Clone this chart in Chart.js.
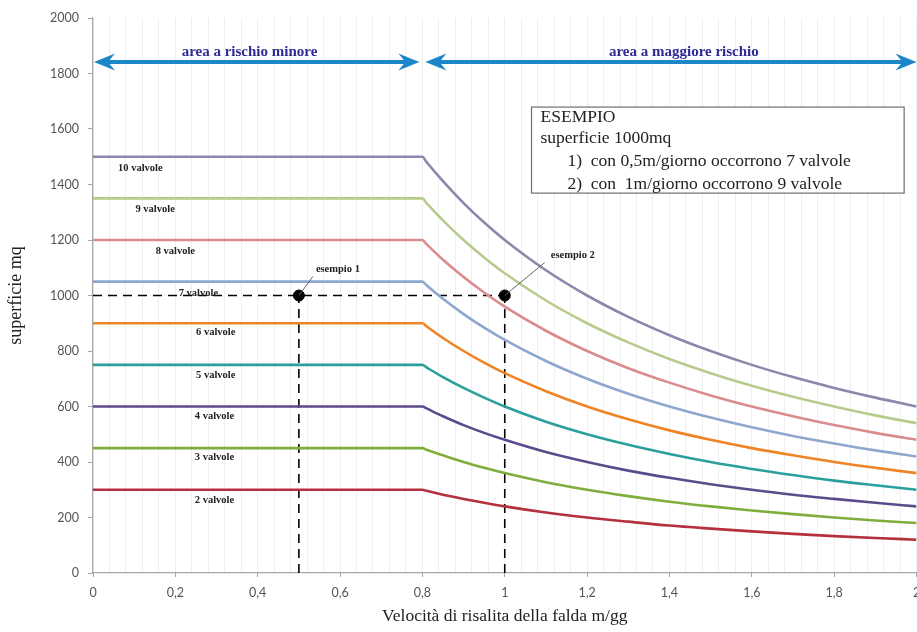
<!DOCTYPE html>
<html>
<head>
<meta charset="utf-8">
<script src="https://cdn.jsdelivr.net/npm/chart.js@4.4.1/dist/chart.umd.min.js"></script>
<style>
html,body{margin:0;padding:0;background:#fff;overflow:hidden;width:917px;height:632px;}
#wrap{position:relative;width:923px;height:632px;}
</style>
</head>
<body>
<div id="wrap"><canvas id="c"></canvas></div>
<script>
// ---- data ----
const xValues = [0, 0.8, 0.81, 0.85, 0.9, 0.95, 1.0, 1.1, 1.2, 1.3, 1.4, 1.5, 1.6, 1.7, 1.8, 1.9, 2.0];
const v10 = [1500,1500,1481,1412,1333,1263,1200,1091,1000,923,857,800,750,706,667,632,600];
const v9  = [1350,1350,1333,1271,1200,1137,1080,982,900,831,771,720,675,635,600,568,540];
const v8  = [1200,1200,1185,1129,1067,1011,960,873,800,738,686,640,600,565,533,505,480];
const v7  = [1050,1050,1037,988,933,884,840,764,700,646,600,560,525,494,467,442,420];
const v6  = [900,900,889,847,800,758,720,655,600,554,514,480,450,424,400,379,360];
const v5  = [750,750,741,706,667,632,600,545,500,462,429,400,375,353,333,316,300];
const v4  = [600,600,593,565,533,505,480,436,400,369,343,320,300,282,267,253,240];
const v3  = [450,450,444,424,400,379,360,327,300,277,257,240,225,212,200,189,180];
const v2  = [300,300,296,282,267,253,240,218,200,185,171,160,150,141,133,126,120];
const seriesNames = ['10 valvole','9 valvole','8 valvole','7 valvole','6 valvole','5 valvole','4 valvole','3 valvole','2 valvole'];
const seriesValues = [v10, v9, v8, v7, v6, v5, v4, v3, v2];
const seriesColors = ['#8b88ac','#b7cc8c','#d98b8e','#8ea7cf','#f08324','#2a9f9c','#5c4b8b','#7fae3d','#b4303c'];
// label anchor positions (x, y) for curve names
const labelX = [0.115, 0.151, 0.2, 0.256, 0.298, 0.298, 0.295, 0.295, 0.295];
const labelY = [1459, 1312, 1160, 1009, 868, 714, 566, 418, 263];
// examples
const exampleX = [0.5, 1.0];
const exampleY = [1000, 1000];
const exampleNames = ['esempio 1', 'esempio 2'];
const xTicks = [0, 0.2, 0.4, 0.6, 0.8, 1, 1.2, 1.4, 1.6, 1.8, 2];
const yTicks = [0, 200, 400, 600, 800, 1000, 1200, 1400, 1600, 1800, 2000];
const arrowY = 1841;
const zoneSplit = 0.8;
const zoneLabels = ['area a rischio minore', 'area a maggiore rischio'];
const zoneLabelX = [0.38, 1.435];
const boxLines = ['ESEMPIO', 'superficie 1000mq', '1)  con 0,5m/giorno occorrono 7 valvole', '2)  con  1m/giorno occorrono 9 valvole'];

const datasets = seriesValues.map((vals, i) => ({
  label: seriesNames[i],
  data: xValues.map((x, j) => ({x: x, y: vals[j]})),
  borderColor: seriesColors[i],
  borderWidth: 2.6,
  pointRadius: 0,
  fill: false,
  cubicInterpolationMode: 'monotone'
}));
// dashed reference lines
const dashStyle = {borderColor:'#000', borderWidth:1.6, borderDash:[9,6], pointRadius:0, fill:false};
datasets.push(Object.assign({label:'h', data:[{x:0,y:exampleY[0]},{x:exampleX[1],y:exampleY[1]}]}, dashStyle));
exampleX.forEach((ex, i) => {
  datasets.push(Object.assign({label:'v'+i, data:[{x:ex,y:0},{x:ex,y:exampleY[i]}]}, dashStyle));
});
datasets.push({label:'pts', data: exampleX.map((ex,i)=>({x:ex,y:exampleY[i]})), showLine:false,
  pointRadius:5.5, pointBackgroundColor:'#000', pointBorderColor:'#000'});

function arrowHead(ctx, tipX, y, dir) {
  // swept-back head; dir = -1 pointing left, +1 pointing right
  const L = 21, H = 8.5, back = 14;
  ctx.beginPath();
  ctx.moveTo(tipX, y);
  ctx.lineTo(tipX - dir*L, y - H);
  ctx.lineTo(tipX - dir*back, y);
  ctx.lineTo(tipX - dir*L, y + H);
  ctx.closePath();
  ctx.fill();
}

const overlay = {
  id: 'overlay',
  afterDatasetsDraw(chart) {
    const ctx = chart.ctx, xs = chart.scales.x, ys = chart.scales.y;
    ctx.save();
    // curve labels
    ctx.font = 'bold 10.5px "Liberation Serif"';
    ctx.fillStyle = '#222';
    ctx.textAlign = 'center';
    ctx.textBaseline = 'middle';
    seriesNames.forEach((n, i) => {
      ctx.fillText(n, xs.getPixelForValue(labelX[i]), ys.getPixelForValue(labelY[i]));
    });
    // example annotations
    ctx.strokeStyle = '#666';
    ctx.lineWidth = 1;
    const offs = [[14, -19], [40, -33]];
    const toff = [[3, -7], [6, -7]];
    exampleX.forEach((ex, i) => {
      const px = xs.getPixelForValue(ex), py = ys.getPixelForValue(exampleY[i]);
      ctx.beginPath();
      ctx.moveTo(px, py);
      ctx.lineTo(px + offs[i][0], py + offs[i][1]);
      ctx.stroke();
      ctx.textAlign = 'left';
      ctx.fillText(exampleNames[i], px + offs[i][0] + toff[i][0], py + offs[i][1] + toff[i][1]);
    });
    // zone arrows
    const ay = ys.getPixelForValue(arrowY);
    const x0 = xs.getPixelForValue(0), xm = xs.getPixelForValue(zoneSplit), x2 = xs.getPixelForValue(2);
    ctx.fillStyle = '#1b87c9';
    ctx.strokeStyle = '#1b87c9';
    ctx.lineWidth = 4;
    ctx.beginPath();
    ctx.moveTo(x0 + 12, ay); ctx.lineTo(xm - 14, ay);
    ctx.moveTo(xm + 16, ay); ctx.lineTo(x2 - 10, ay);
    ctx.stroke();
    arrowHead(ctx, x0 + 1, ay, -1);
    arrowHead(ctx, xm - 3, ay, 1);
    arrowHead(ctx, xm + 3, ay, -1);
    arrowHead(ctx, x2, ay, 1);
    ctx.fillStyle = '#2e2a93';
    ctx.font = 'bold 15px "Liberation Serif"';
    ctx.textAlign = 'center';
    ctx.textBaseline = 'middle';
    zoneLabels.forEach((t, i) => ctx.fillText(t, xs.getPixelForValue(zoneLabelX[i]), ay - 10));
    // example box
    const bx0 = xs.getPixelForValue(1.065), bx1 = xs.getPixelForValue(1.97);
    const by0 = ys.getPixelForValue(1679), by1 = ys.getPixelForValue(1369);
    ctx.fillStyle = '#fff';
    ctx.fillRect(bx0, by0, bx1 - bx0, by1 - by0);
    ctx.strokeStyle = '#6e6e6e';
    ctx.lineWidth = 1.2;
    ctx.strokeRect(bx0, by0, bx1 - bx0, by1 - by0);
    ctx.fillStyle = '#222';
    ctx.font = '17.5px "Liberation Serif"';
    ctx.textAlign = 'left';
    ctx.textBaseline = 'middle';
    const lineY = [by0 + 10, by0 + 31, by0 + 54, by0 + 77];
    const lineX = [bx0 + 9, bx0 + 9, bx0 + 36, bx0 + 36];
    boxLines.forEach((t, i) => ctx.fillText(t, lineX[i], lineY[i]));
    ctx.restore();
  }
};

function noSidePad(s) { s.paddingLeft = 0; s.paddingRight = 0; }

new Chart(document.getElementById('c'), {
  type: 'line',
  data: { datasets },
  options: {
    responsive: true,
    maintainAspectRatio: false,
    animation: false,
    events: [],
    layout: { padding: { left: 0, top: 18, right: 1, bottom: 0 } },
    plugins: { legend: { display: false }, tooltip: { enabled: false } },
    scales: {
      x: {
        type: 'linear', min: 0, max: 2,
        afterBuildTicks: (s) => { s.ticks = xTicks.map(v => ({value: v})); },
        afterFit: (s) => { s.height = 59; noSidePad(s); },
        ticks: {
          color: '#555', font: { family: 'Lato', size: 12.5 }, padding: 8,
          maxRotation: 0, autoSkip: false,
          callback: (v) => String(v).replace('.', ',')
        },
        grid: { drawOnChartArea: false, tickLength: 4, tickColor: '#a6a6a6' },
        border: { color: '#a6a6a6', width: 1.2 },
        title: { display: true, text: 'Velocità di risalita della falda m/gg', color: '#222',
          font: { family: 'Liberation Serif', size: 17.5 }, padding: { top: 0, bottom: 5 } }
      },
      xminor: {
        type: 'linear', min: 0, max: 2, position: 'bottom', display: true,
        ticks: { display: false, stepSize: 0.04 },
        afterFit: (s) => { s.height = 0; noSidePad(s); },
        grid: { color: '#efefef', lineWidth: 1, drawTicks: false },
        border: { display: false }
      },
      y: {
        min: 0, max: 2000,
        afterBuildTicks: (s) => { s.ticks = yTicks.map(v => ({value: v})); },
        afterFit: (s) => { s.width = 93; },
        ticks: { color: '#555', font: { family: 'Lato', size: 12.5 }, padding: 9,
          callback: (v) => String(v) },
        grid: { drawOnChartArea: false, tickLength: 5, tickColor: '#a6a6a6' },
        border: { color: '#a6a6a6', width: 1.2 },
        title: { display: true, text: 'superficie mq', color: '#222',
          font: { family: 'Liberation Serif', size: 18 }, padding: { top: 5, bottom: 0 } }
      }
    }
  },
  plugins: [overlay]
});
</script>
</body>
</html>
